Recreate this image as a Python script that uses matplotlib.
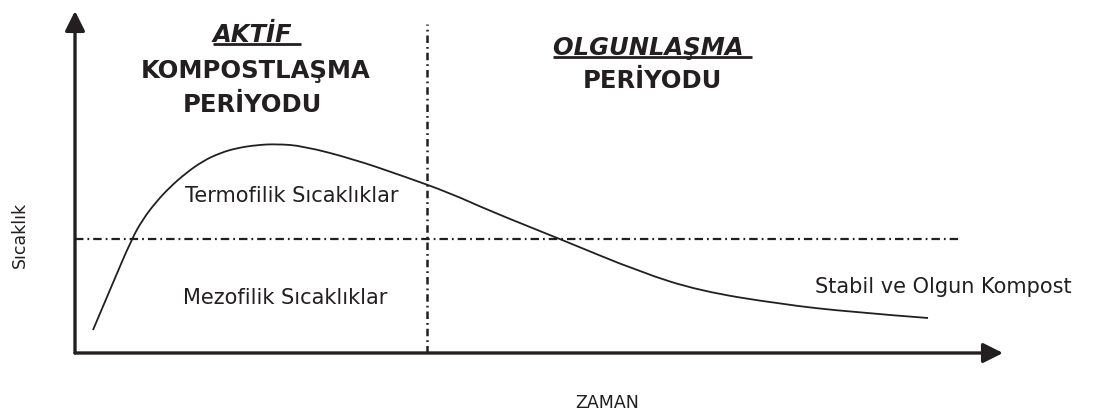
import matplotlib
matplotlib.use("Agg")
import matplotlib.pyplot as plt
from matplotlib.path import Path
from matplotlib.patches import PathPatch

# egri noktalari (zaman, sicaklik)
zaman = [1.94, 3.99, 6.11, 7.33, 8.73, 10.24, 11.96, 13.79, 15.63, 17.46, 19.61,
         21.77, 24.57, 29.96, 35.34, 40.41, 44.72, 52.26, 60.88, 67.35, 75.97,
         83.51, 91.92]
sicaklik = [6.73, 19.88, 33.33, 39.18, 44.15, 48.54, 52.63, 56.14, 58.48, 59.94,
            60.82, 61.11, 60.53, 56.73, 51.75, 46.78, 41.52, 33.33, 23.68, 18.13,
            14.33, 11.99, 10.23]

# esikler
termofilik_esik = 33.3
esik_bitis = 95.4
aktif_bitis = 37.9
periyot_ust = 96.2

renk = "#231f20"
plt.rcParams['font.family'] = ['DejaVu Sans']

fig = plt.figure(figsize=(10.98, 4.14), dpi=100)
ax = fig.add_axes([75 / 1098, 60 / 414, 928 / 1098, 342 / 414])
ax.set_xlim(0, 100)
ax.set_ylim(0, 100)
ax.axis("off")

# eksen oklari
ok = dict(arrowstyle="-|>,head_length=0.6,head_width=0.3", lw=2.4,
          color=renk, mutation_scale=20, shrinkA=0, shrinkB=0)
ax.annotate("", xy=(0, 1), xytext=(0, 0), xycoords="axes fraction", arrowprops=ok)
ax.annotate("", xy=(1, 0), xytext=(0, 0), xycoords="axes fraction", arrowprops=ok)

# egri (noktalar kontrol noktasi olarak, yumusak egri)
pts = list(zip(zaman, sicaklik))
verts = [pts[0]]
codes = [Path.MOVETO]
for i in range(1, len(pts) - 1):
    p, q = pts[i], pts[i + 1]
    son = q if i == len(pts) - 2 else ((p[0] + q[0]) / 2, (p[1] + q[1]) / 2)
    verts += [p, son]
    codes += [Path.CURVE3, Path.CURVE3]
ax.add_patch(PathPatch(Path(verts, codes), fill=False, edgecolor=renk, lw=1.3))

# esik cizgileri
ax.plot([0, esik_bitis], [termofilik_esik, termofilik_esik], color=renk, lw=1.6,
        dashes=(3.8, 1.8, 0.8, 1.8))
ax.plot([aktif_bitis, aktif_bitis], [0, periyot_ust], color=renk, lw=1.8,
        dashes=(3.0, 1.6, 0.7, 1.6))

# basliklar
kalin = dict(fontsize=17.5, fontweight="bold", color=renk, ha="center", va="baseline")
t1 = ax.text(19.6, 91.2, "AKTİF ", style="italic", **kalin)
ax.text(19.5, 80.6, "KOMPOSTLAŞMA", **kalin)
ax.text(19.1, 70.8, "PERİYODU", **kalin)
t2 = ax.text(62.2, 87.4, "OLGUNLAŞMA ", style="italic", **kalin)
ax.text(62.2, 77.8, "PERİYODU", **kalin)

# alt cizgiler
r = fig.canvas.get_renderer()
inv = ax.transData.inverted()
for t in (t1, t2):
    bb = t.get_window_extent(r)
    x0, y0 = inv.transform((bb.x0, bb.y0 + 2))
    x1, _ = inv.transform((bb.x1, bb.y0))
    ax.plot([x0, x1], [y0, y0], color=renk, lw=2.0, solid_capstyle="butt")

normal = dict(fontsize=15, color=renk, va="baseline", ha="center")
ax.text(23.4, 44.4, "Termofilik Sıcaklıklar", **normal)
ax.text(22.6, 14.6, "Mezofilik Sıcaklıklar", **normal)
ax.text(93.6, 17.8, "Stabil ve Olgun Kompost", **normal)

ax.text(57.4, -15.8, "ZAMAN", fontsize=12.5, color=renk, ha="center",
        va="baseline", clip_on=False)
ax.text(-5.9, 34.8, "Sıcaklık", fontsize=12.5, color=renk, rotation=90,
        ha="center", va="center", clip_on=False)

fig.savefig("out.png", dpi=100)
